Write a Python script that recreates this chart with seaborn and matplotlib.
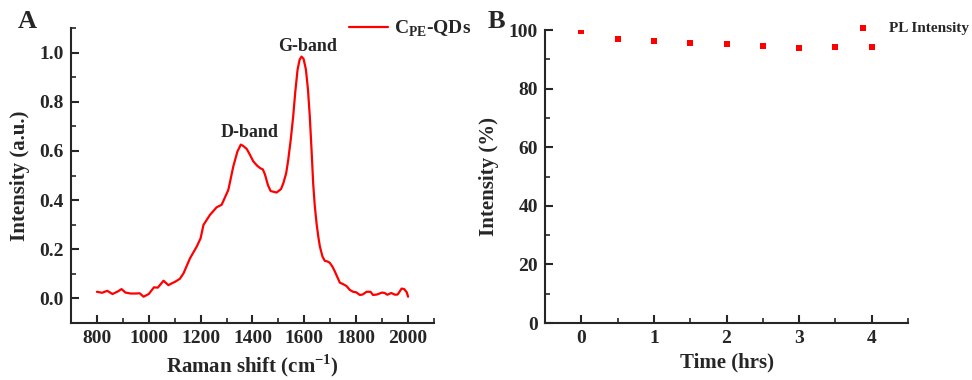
import matplotlib
matplotlib.use("Agg")
import matplotlib.pyplot as plt
import seaborn as sns
import pandas as pd
from matplotlib.ticker import MultipleLocator

# Raman spectrum (panel A)
raman_shift = [800, 820, 840, 860, 880, 895, 910, 930, 950, 965, 980, 1000, 1020, 1035,
               1057, 1076, 1090, 1102, 1120, 1134, 1159, 1185, 1200, 1211, 1236, 1262,
               1281, 1307, 1326, 1342, 1355, 1365, 1378, 1390, 1403, 1418, 1430, 1440,
               1448, 1460, 1470, 1493, 1510, 1519, 1530, 1538, 1548, 1557, 1565, 1574,
               1582, 1589, 1597, 1606, 1614, 1621, 1628, 1634, 1640, 1647, 1654, 1660,
               1670, 1679, 1690, 1698, 1708, 1718, 1728, 1737, 1750, 1763, 1775, 1788,
               1800, 1814, 1825, 1840, 1855, 1865, 1880, 1900, 1910, 1920, 1935, 1950,
               1960, 1975, 1985, 1995, 2000]
raman_intensity = [0.027, 0.023, 0.031, 0.018, 0.028, 0.038, 0.024, 0.020, 0.020, 0.021,
                   0.007, 0.018, 0.045, 0.044, 0.072, 0.054, 0.062, 0.068, 0.080, 0.102,
                   0.163, 0.211, 0.245, 0.299, 0.340, 0.371, 0.381, 0.442, 0.537, 0.598,
                   0.626, 0.620, 0.608, 0.585, 0.558, 0.540, 0.530, 0.525, 0.505, 0.460,
                   0.437, 0.431, 0.445, 0.469, 0.510, 0.565, 0.650, 0.741, 0.840, 0.932,
                   0.972, 0.984, 0.975, 0.932, 0.850, 0.741, 0.600, 0.469, 0.380, 0.306,
                   0.250, 0.211, 0.170, 0.153, 0.150, 0.145, 0.130, 0.109, 0.085, 0.064,
                   0.058, 0.050, 0.035, 0.027, 0.025, 0.014, 0.016, 0.027, 0.027, 0.014,
                   0.016, 0.024, 0.022, 0.015, 0.022, 0.015, 0.016, 0.040, 0.038, 0.025,
                   0.007]

# PL stability (panel B)
time_hrs = [0, 0.5, 1, 1.5, 2, 2.5, 3, 3.5, 4]
pl_intensity = [99.8, 97.0, 96.4, 95.4, 95.2, 94.5, 94.0, 94.1, 94.3]

sns.set_style("ticks")
plt.rcParams["font.family"] = ["Liberation Serif", "DejaVu Serif"]
plt.rcParams["font.weight"] = "bold"
plt.rcParams["axes.labelweight"] = "bold"
plt.rcParams["mathtext.fontset"] = "custom"
plt.rcParams["mathtext.rm"] = "Liberation Serif:bold"
plt.rcParams["mathtext.bf"] = "Liberation Serif:bold"
plt.rcParams["axes.linewidth"] = 1.5

fig = plt.figure(figsize=(9.72, 3.8), dpi=100)
ax1 = fig.add_axes([0.073, 0.15, 0.3735, 0.776])
ax2 = fig.add_axes([0.5607, 0.15, 0.3735, 0.771])

df_a = pd.DataFrame({"shift": raman_shift, "intensity": raman_intensity})
sns.lineplot(data=df_a, x="shift", y="intensity", ax=ax1, color="#ff0000",
             linewidth=1.6, label="C$_{\\mathrm{PE}}$-QDs")
ax1.set_xlim(700, 2100)
ax1.set_ylim(-0.1, 1.1)
ax1.xaxis.set_major_locator(MultipleLocator(200))
ax1.xaxis.set_minor_locator(MultipleLocator(100))
ax1.yaxis.set_major_locator(MultipleLocator(0.2))
ax1.yaxis.set_minor_locator(MultipleLocator(0.1))
ax1.yaxis.set_major_formatter(matplotlib.ticker.FormatStrFormatter("%.1f"))
ax1.set_xlabel("Raman shift (cm$^{\\mathrm{-1}}$)", fontsize=15, labelpad=4)
ax1.set_ylabel("Intensity (a.u.)", fontsize=15, labelpad=7)
ax1.text(1387, 0.675, "D-band", ha="center", va="center", fontsize=13, fontweight="bold")
ax1.text(1614, 1.026, "G-band", ha="center", va="center", fontsize=13, fontweight="bold")
ax1.legend(loc="center left", bbox_to_anchor=(349 / 972, 1 - 29 / 380),
           bbox_transform=fig.transFigure, frameon=False, fontsize=14,
           handlelength=2.0, handletextpad=0.3, borderaxespad=0, borderpad=0)

df_b = pd.DataFrame({"time": time_hrs, "pl": pl_intensity})
sns.scatterplot(data=df_b, x="time", y="pl", ax=ax2, color="#ff0000", marker="s",
                s=24, linewidth=0, label="PL Intensity")
ax2.set_xlim(-0.5, 4.5)
ax2.set_ylim(0, 100)
ax2.xaxis.set_major_locator(MultipleLocator(1))
ax2.xaxis.set_minor_locator(MultipleLocator(0.5))
ax2.yaxis.set_major_locator(MultipleLocator(20))
ax2.yaxis.set_minor_locator(MultipleLocator(10))
ax2.set_xlabel("Time (hrs)", fontsize=15, labelpad=4)
ax2.set_ylabel("Intensity (%)", fontsize=15, labelpad=7)
ax2.legend(loc="center left", bbox_to_anchor=(855 / 972, 1 - 28 / 380),
           bbox_transform=fig.transFigure, frameon=False, fontsize=11,
           handlelength=1.0, handletextpad=1.2, borderaxespad=0, borderpad=0)

for ax in (ax1, ax2):
    sns.despine(ax=ax)
    ax.tick_params(which="major", direction="in", length=6, width=1.5, labelsize=14, pad=5)
    ax.tick_params(which="minor", direction="in", length=3.5, width=1.2)
    for lab in ax.get_xticklabels() + ax.get_yticklabels():
        lab.set_fontweight("bold")

fig.text(27 / 972, 1 - 21 / 380, "A", fontsize=19, fontweight="bold", ha="center", va="center")
fig.text(496 / 972, 1 - 22 / 380, "B", fontsize=19, fontweight="bold", ha="center", va="center")

fig.savefig("out.png", dpi=100)
